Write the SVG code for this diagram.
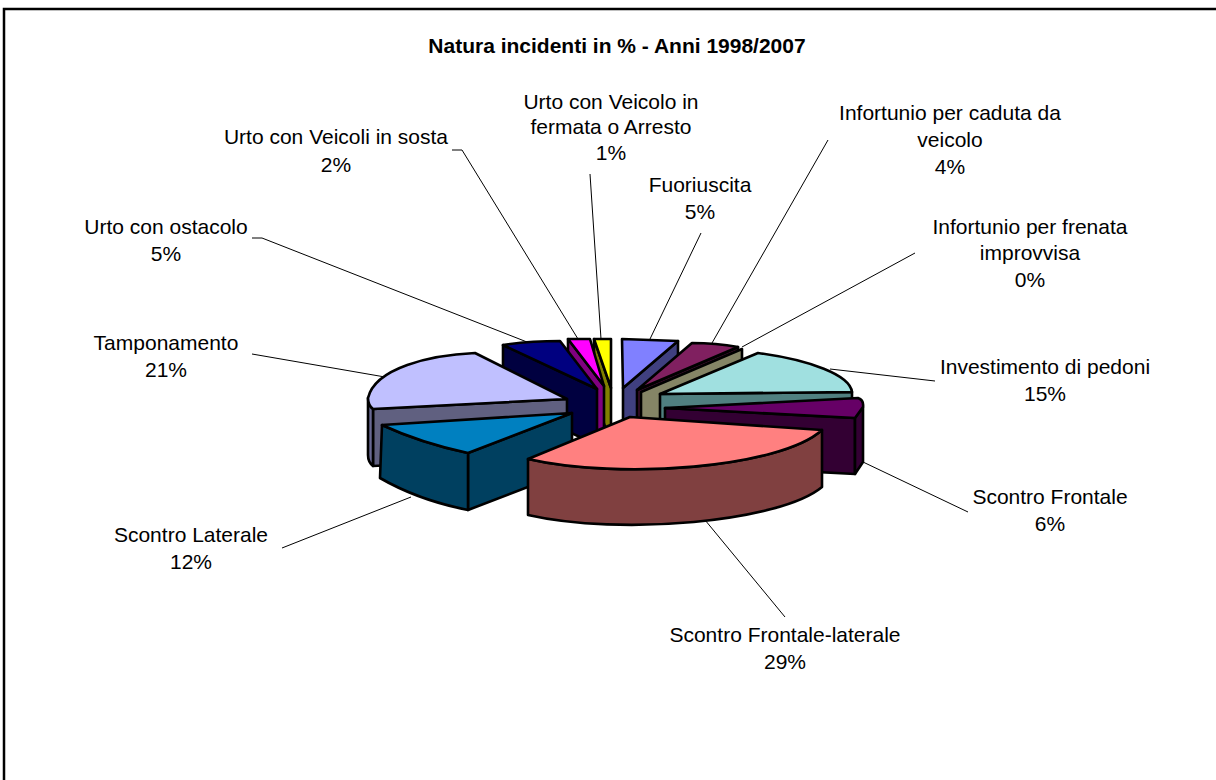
<svg xmlns="http://www.w3.org/2000/svg" width="1216" height="780" viewBox="0 0 1216 780">
<style>
.s{stroke:#000;stroke-width:2.6;stroke-linejoin:round}
.l{fill:none;stroke:#000;stroke-width:1}
text{font-family:"Liberation Sans",Arial,sans-serif;font-size:21px;fill:#000;text-anchor:middle}
.t{font-weight:bold;font-size:21px}
</style>
<rect x="0" y="0" width="1216" height="780" fill="#fff"/>
<rect x="4" y="9" width="1230" height="790" fill="none" stroke="#000" stroke-width="2.5"/>
<text class="t" x="617" y="53">Natura incidenti in % - Anni 1998/2007</text>

<g id="connectors">
<path class="l" d="M590,174 L601,339"/>
<path class="l" d="M452,150 L462,150 L578,339"/>
<path class="l" d="M252,238 L262,238 L527,342"/>
<path class="l" d="M252,354 L385,377"/>
<path class="l" d="M282,548 L411,497"/>
<path class="l" d="M705,520 L785,617"/>
<path class="l" d="M863,462 L968,512"/>
<path class="l" d="M830,369 L935,381"/>
<path class="l" d="M742,347 L915,253"/>
<path class="l" d="M712,343 L828,140"/>
<path class="l" d="M650,339 L701,233"/>
</g>

<g id="fuoriuscita">
<path class="s" fill="#404080" d="M678,341 L623,388 L623,444 L678,397 Z"/>
<path class="s" fill="#8080FF" d="M622,339 L678,341 L623,388 Z"/>
<text x="700" y="192">Fuoriuscita</text>
<text x="700" y="219">5%</text>
</g>

<g id="caduta">
<path class="s" fill="#401030" d="M738,347 L637,390 L637,446 L738,403 Z"/>
<path class="s" fill="#802060" d="M692,343 Q716,343 738,347 L637,390 Z"/>
<text x="950" y="120">Infortunio per caduta da</text>
<text x="950" y="147">veicolo</text>
<text x="950" y="174">4%</text>
</g>

<g id="frenata">
<path class="s" fill="#858566" d="M641,392 L742,349 L742,405 L641,448 Z"/>
<text x="1030" y="234">Infortunio per frenata</text>
<text x="1030" y="260">improvvisa</text>
<text x="1030" y="287">0%</text>
</g>

<g id="investimento">
<path class="s" fill="#508080" d="M660,394 L852,392 L852,448 L660,450 Z"/>
<path class="s" fill="#A0E0E0" d="M660,394 L758,353 C810,360 850,375 852,392 Z"/>
<text x="1045" y="374">Investimento di pedoni</text>
<text x="1045" y="401">15%</text>
</g>

<g id="frontale">
<path class="s" fill="#330033" d="M665,408 L855,418 L855,474 L665,464 Z"/>
<path class="s" fill="#330033" d="M863,407 L855,418 L855,474 L863,462 Z"/>
<path class="s" fill="#660066" d="M665,408 L858,398 Q864,400 863,407 L855,418 Z"/>
<text x="1050" y="504">Scontro Frontale</text>
<text x="1050" y="531">6%</text>
</g>

<g id="fermata">
<path class="s" fill="#808000" d="M594,339 L611,388 L611,444 L594,395 Z"/>
<path class="s" fill="#FFFF00" d="M594,339 L611,339 L611,388 Z"/>
<text x="611" y="109">Urto con Veicolo in</text>
<text x="611" y="134">fermata o Arresto</text>
<text x="611" y="160">1%</text>
</g>

<g id="sosta">
<path class="s" fill="#800080" d="M568,339 L604,386 L604,442 L568,395 Z"/>
<path class="s" fill="#FF00FF" d="M568,339 L590,339 L604,386 Z"/>
<text x="336" y="144">Urto con Veicoli in sosta</text>
<text x="336" y="172">2%</text>
</g>

<g id="ostacolo">
<path class="s" fill="#000040" d="M503,345 L597,389 L597,445 L503,401 Z"/>
<path class="s" fill="#000080" d="M503,345 Q530,341 560,341 L597,389 Z"/>
<text x="166" y="234">Urto con ostacolo</text>
<text x="166" y="261">5%</text>
</g>

<g id="tamponamento">
<path class="s" fill="#606080" d="M373,409 L567,399 L567,456 L373,466 Z"/>
<path class="s" fill="#6A6A94" d="M368,398 Q368,405 373,409 L373,466 Q368,462 368,455 Z"/>
<path class="s" fill="#C0C0FF" d="M567,399 L475,353 C430,355 375,368 368,398 Q368,405 373,409 Z"/>
<text x="166" y="350">Tamponamento</text>
<text x="166" y="377">21%</text>
</g>

<g id="laterale">
<path class="s" fill="#004060" d="M468,453 L572,413 L572,470 L468,510 Z"/>
<path class="s" fill="#004060" d="M382,425 Q421,443 468,453 L468,510 Q418,500 380,478 Z"/>
<path class="s" fill="#0080C0" d="M382,425 L572,413 L468,453 Q421,443 382,425 Z"/>
<text x="191" y="542">Scontro Laterale</text>
<text x="191" y="569">12%</text>
</g>

<g id="frontale-laterale">
<path class="s" fill="#804040" d="M528,459 C620,480 780,468 822,430 L822,487 C780,522 620,536 528,515 Z"/>
<path class="s" fill="#FF8080" d="M630,417 L822,430 C780,468 620,480 528,459 Z"/>
<text x="785" y="642">Scontro Frontale-laterale</text>
<text x="785" y="669">29%</text>
</g>
</svg>
